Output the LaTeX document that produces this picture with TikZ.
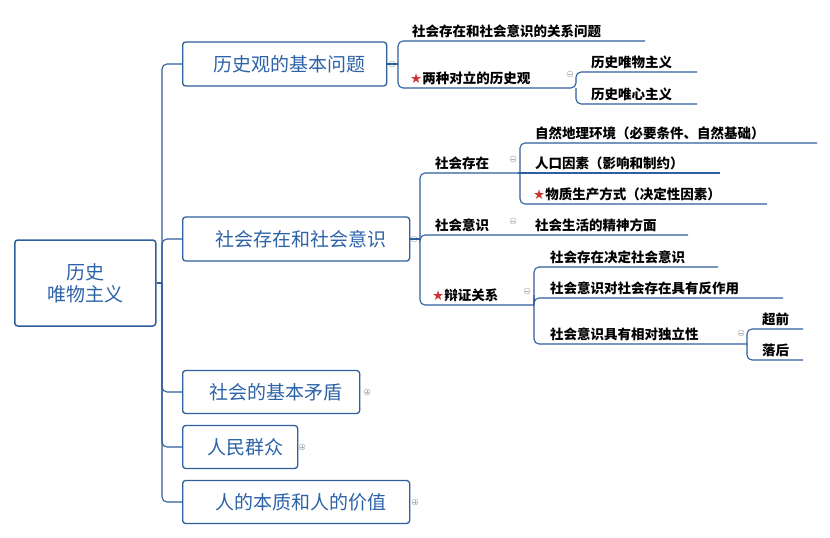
\documentclass[tikz,border=0pt]{standalone}
\usepackage{fontspec}
\setmainfont{Noto Sans CJK SC}
\newfontfamily\djv{DejaVu Sans}
\begin{document}
\begin{tikzpicture}[x=1pt,y=-1pt,
  ln/.style={draw=lineblue,line width=1.1pt},
  br/.style={ln,rounded corners=5pt},
  box/.style={draw=lineblue,line width=1.3pt,rounded corners=3pt,text=boxblue,font=\fontsize{19}{22}\selectfont,inner sep=0pt,anchor=west},
  lt/.style={anchor=south west,font=\bfseries\fontsize{13.5}{15}\selectfont,inner sep=0pt,yshift=3pt},
  mk/.style={circle,draw=gray!60,line width=0.5pt,minimum size=6pt,inner sep=0pt}]
\definecolor{lineblue}{HTML}{2E5E9C}
\definecolor{boxblue}{HTML}{2C62A8}
\useasboundingbox (0,0) rectangle (830,538);
\newcommand{\rstar}{{\djv\color{red!75!black!80}★}}
% root
\node[box,minimum width=141pt,minimum height=86pt,align=center,line width=1.5pt] (root) at (14,283) {历史\\唯物主义};
% level 1
\node[box,minimum width=204pt,minimum height=44pt] (b1) at (182,64) {\hspace{10pt}历史观的基本问题\hfill};
\node[box,minimum width=227pt,minimum height=44pt] (b2) at (182,239) {\hspace{10pt}社会存在和社会意识\hfill};
\node[box,minimum width=177pt,minimum height=43pt] (b3) at (182,392) {\hspace{10pt}社会的基本矛盾\hfill};
\node[box,minimum width=115pt,minimum height=43pt] (b4) at (182,447) {\hspace{10pt}人民群众\hfill};
\node[box,minimum width=227pt,minimum height=43pt] (b5) at (182,502) {\hspace{10pt}人的本质和人的价值\hfill};
\coordinate (t) at (162,283);
\draw[ln] (root.east) -- (t);
\foreach \b in {b1,b2,b3,b4,b5} \draw[br] (t) |- (\b.west);
% markers
\node[mk] (m1) at (392,64) {};
\node[mk] (m2) at (414,239) {};
\node[mk] (m3) at (367,392) {};
\node[mk] (m4) at (302,447) {};
\node[mk] (m5) at (415,502) {};
\node[mk] (m6) at (570,74) {};
\node[mk] (m7) at (513,159) {};
\node[mk] (m8) at (513,221) {};
\node[mk] (m9) at (527,291) {};
\node[mk] (m10) at (741,333) {};
\foreach \m in {m1,m2,m3,m4,m5,m6,m7,m8,m9,m10} \draw[gray!60,line width=0.5pt] ([xshift=-1.8pt]\m.center) -- ([xshift=1.8pt]\m.center);
\foreach \m in {m3,m4,m5} \draw[gray!60,line width=0.5pt] ([yshift=-1.8pt]\m.center) -- ([yshift=1.8pt]\m.center);
% branch 1
\coordinate (j1) at (398,64);
\draw[ln] (b1.east) -- (j1);
\node[lt] (a1) at (412,41) {社会存在和社会意识的关系问题};
\node[lt] (a2) at (410,88) {\rstar 两种对立的历史观};
\draw[br] (j1) |- (645,41);
\draw[br] (j1) |- (576,88) |- (697,72);
\draw[br] (576,88) |- (697,104);
\node[lt] (a3) at (591,72) {历史唯物主义};
\node[lt] (a4) at (591,104) {历史唯心主义};
% branch 2
\coordinate (j2) at (420,239);
\draw[ln] (b2.east) -- (j2);
\node[lt] (c1) at (435,173) {社会存在};
\node[lt] (c2) at (435,235) {社会意识};
\node[lt] (c3) at (432,305) {\rstar 辩证关系};
\draw[br] (j2) |- (520,173);
\draw[br] (j2) |- (688,235);
\draw[br] (j2) |- (534,305);
\draw[ln] (518,173) -- (720,173);
\draw[br] (520,173) |- (817,143);
\draw[br] (520,173) |- (767,204);
\node[lt] (d1) at (535,143) {自然地理环境（必要条件、自然基础）};
\node[lt] (d2) at (535,173) {人口因素（影响和制约）};
\node[lt] (d3) at (533,204) {\rstar 物质生产方式（决定性因素）};
\node[lt] (d4) at (535,235) {社会生活的精神方面};
\draw[br] (534,305) |- (718,267);
\draw[br] (534,298) -- (534,300) |- (783,298);
\draw[br] (534,300) |- (747,344);
\node[lt] (e1) at (550,267) {社会存在决定社会意识};
\node[lt] (e2) at (550,298) {社会意识对社会存在具有反作用};
\node[lt] (e3) at (550,344) {社会意识具有相对独立性};
\draw[br] (747,344) |- (803,329);
\draw[br] (747,344) |- (803,360);
\node[lt] (f1) at (762,329) {超前};
\node[lt] (f2) at (762,360) {落后};
\end{tikzpicture}
\end{document}
